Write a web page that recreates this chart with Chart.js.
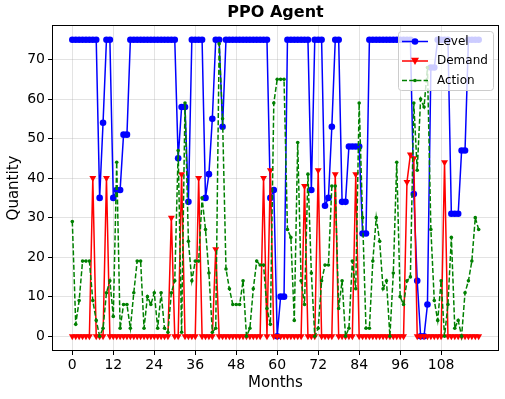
<!DOCTYPE html>
<html><head><meta charset="utf-8">
<script src="https://cdn.jsdelivr.net/npm/chart.js@4.4.1/dist/chart.umd.min.js"></script>
<style>html,body{margin:0;padding:0;background:#fff;}#wrap{width:505px;height:399px;}</style>
</head><body><div id="wrap"><canvas id="c" width="505" height="399"></canvas></div>
<script>
const months = [0,1,2,3,4,5,6,7,8,9,10,11,12,13,14,15,16,17,18,19,20,21,22,23,24,25,26,27,28,29,
30,31,32,33,34,35,36,37,38,39,40,41,42,43,44,45,46,47,48,49,50,51,52,53,54,55,56,57,58,59,
60,61,62,63,64,65,66,67,68,69,70,71,72,73,74,75,76,77,78,79,80,81,82,83,84,85,86,87,88,89,
90,91,92,93,94,95,96,97,98,99,100,101,102,103,104,105,106,107,108,109,110,111,112,113,114,115,116,117,118,119];

const level = [75,75,75,75,75,75,75,75,35,54,
75,75,35,37,37,51,51,75,75,75,
75,75,75,75,75,75,75,75,75,75,
75,45,58,58,34,75,75,75,75,35,
41,55,75,75,53,75,75,75,75,75,
75,75,75,75,75,75,75,75,35,37,
0,10,10,75,75,75,75,75,75,75,
37,75,75,75,33,35,53,75,75,34,
34,48,48,48,48,26,26,75,75,75,
75,75,75,75,75,75,75,75,75,75,
36,14,0,0,8,68,68,75,75,75,
75,31,31,31,47,47,75,75,75,75];

const demand = [0,0,0,0,0,0,40,0,0,0,
40,0,0,0,0,0,0,0,0,0,
0,0,0,0,0,0,0,0,0,30,
0,0,41,0,0,0,0,40,0,0,
0,0,22,0,0,0,0,0,0,0,
0,0,0,0,0,0,40,0,42,0,
0,0,0,0,0,0,0,0,38,0,
0,0,42,0,0,0,0,41,0,0,
0,0,0,41,0,0,0,0,0,0,
0,0,0,0,0,0,0,0,39,46,
45,0,0,0,0,0,0,0,0,44,
0,0,0,0,0,0,0,0,0,0];

const action = [29,3,9,19,19,19,9,4,0,2,
11,14,5,44,2,8,8,2,11,19,
19,2,10,8,11,2,11,2,1,11,
14,47,1,59,24,14,19,19,35,27,
16,1,2,74,55,17,12,8,8,8,
14,0,2,12,19,18,18,7,3,59,
65,65,65,27,25,4,49,14,8,41,
16,0,2,14,18,18,38,38,7,14,
0,2,19,12,59,30,2,2,19,30,
24,12,14,0,16,44,10,8,14,15,
59,42,60,58,68,27,9,4,14,0,
8,25,2,4,0,11,14,19,30,27];

const xTickValues = [0,12,24,36,48,60,72,84,96,108];
const yTickValues = [0,10,20,30,40,50,60,70];
const seriesNames = ['Level','Demand','Action'];
const chartTitle = 'PPO Agent';
const xTitle = 'Months';
const yTitle = 'Quantity';

const FONT = "'DejaVu Sans', sans-serif";
const BLUE = '#0000ff', RED = '#ff0000', GREEN = '#008000';

const framePlugin = {
  id: 'frame',
  afterDatasetsDraw(chart) {
    const {ctx, chartArea: a} = chart;
    ctx.save();
    ctx.strokeStyle = '#000';
    ctx.lineWidth = 1;
    ctx.strokeRect(Math.round(a.left) + 0.5, Math.round(a.top) + 0.5, Math.round(a.right - a.left) - 1, Math.round(a.bottom - a.top) - 1);
    ctx.restore();
  }
};

const legendPlugin = {
  id: 'boxLegend',
  afterDraw(chart) {
    const {ctx} = chart;
    const bx = 398, by = 31.5, bw = 95, bh = 59;
    ctx.save();
    ctx.beginPath();
    ctx.roundRect(bx + 0.5, by, bw, bh, 3);
    ctx.fillStyle = 'rgba(255,255,255,0.8)';
    ctx.fill();
    ctx.strokeStyle = '#cccccc';
    ctx.lineWidth = 1;
    ctx.stroke();
    const rows = [41.5, 61, 80.5];
    const styles = [
      {c: BLUE, dash: [], mk: 'circle', r: 3.3},
      {c: RED, dash: [], mk: 'tri', r: 4},
      {c: GREEN, dash: [5, 2.2], mk: 'dot', r: 1.8}
    ];
    rows.forEach((y, i) => {
      const s = styles[i];
      ctx.strokeStyle = s.c; ctx.fillStyle = s.c;
      ctx.lineWidth = 1.5;
      ctx.setLineDash(s.dash);
      ctx.beginPath(); ctx.moveTo(402, y); ctx.lineTo(428, y); ctx.stroke();
      ctx.setLineDash([]);
      ctx.beginPath();
      if (s.mk === 'tri') {
        ctx.moveTo(415 - s.r, y - s.r * 0.8); ctx.lineTo(415 + s.r, y - s.r * 0.8); ctx.lineTo(415, y + s.r);
        ctx.closePath();
      } else {
        ctx.arc(415, y, s.r, 0, Math.PI * 2);
      }
      ctx.fill();
      ctx.fillStyle = '#000';
      ctx.font = '12px ' + FONT;
      ctx.textBaseline = 'middle';
      ctx.textAlign = 'left';
      ctx.fillText(seriesNames[i], 437, y);
    });
    ctx.restore();
  }
};

const gridColor = 'rgba(176,176,176,0.35)';

new Chart(document.getElementById('c'), {
  type: 'line',
  data: {
    labels: months,
    datasets: [
      {label: seriesNames[0], data: level, borderColor: BLUE, backgroundColor: BLUE, borderWidth: 1.5,
       pointStyle: 'circle', pointRadius: 3.3, pointBorderWidth: 0, tension: 0, order: 3},
      {label: seriesNames[1], data: demand, borderColor: RED, backgroundColor: RED, borderWidth: 1.5,
       pointStyle: 'triangle', pointRotation: 180, pointRadius: 4, pointBorderWidth: 0, tension: 0, order: 2},
      {label: seriesNames[2], data: action, borderColor: GREEN, backgroundColor: GREEN, borderWidth: 1.5,
       borderDash: [5, 2.2], pointStyle: 'circle', pointRadius: 1.8, pointBorderWidth: 0, tension: 0, order: 1}
    ]
  },
  options: {
    responsive: false, animation: false, devicePixelRatio: 1,
    layout: {padding: {left: 0, right: 6, top: 0, bottom: 0}},
    plugins: {
      legend: {display: false},
      tooltip: {enabled: false},
      title: {display: true, text: chartTitle, fullSize: false, color: '#000',
              font: {family: FONT, size: 16, weight: 'bold', lineHeight: 1.2},
              padding: {top: 3, bottom: 2.8}}
    },
    scales: {
      x: {
        type: 'linear', min: -5.95, max: 124.95,
        afterBuildTicks: ax => { ax.ticks = xTickValues.map(v => ({value: v})); },
        afterFit: ax => { ax.height = 48; },
        ticks: {font: {family: FONT, size: 14}, color: '#000', padding: 2, maxRotation: 0, autoSkip: false},
        grid: {color: gridColor, lineWidth: 1, tickColor: '#000', tickLength: 4, tickWidth: 1},
        border: {display: false},
        title: {display: true, text: xTitle, color: '#000', font: {family: FONT, size: 15, lineHeight: 1.2}, padding: {top: 0, bottom: 7}}
      },
      y: {
        type: 'linear', min: -3.75, max: 78.75,
        afterBuildTicks: ax => { ax.ticks = yTickValues.map(v => ({value: v})); },
        afterFit: ax => { ax.width = 52; },
        ticks: {font: {family: FONT, size: 14}, color: '#000', padding: 3, autoSkip: false},
        grid: {color: gridColor, lineWidth: 1, tickColor: '#000', tickLength: 4, tickWidth: 1},
        border: {display: false},
        title: {display: true, text: yTitle, color: '#000', font: {family: FONT, size: 15, lineHeight: 1.2}, padding: {top: 5, bottom: 0}}
      }
    }
  },
  plugins: [framePlugin, legendPlugin]
});
</script></body></html>
